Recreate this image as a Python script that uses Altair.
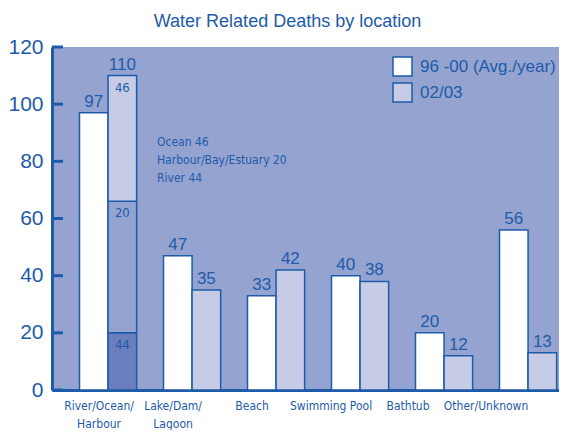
import altair as alt
import pandas as pd

# ---- data ----
categories = ["River/Ocean/Harbour", "Lake/Dam/Lagoon", "Beach", "Swimming Pool", "Bathtub", "Other/Unknown"]
series = ["96 -00 (Avg./year)", "02/03"]
avg_96_00 = [97, 47, 33, 40, 20, 56]
year_02_03 = [110, 35, 42, 38, 12, 13]
# stacked pieces of the first 02/03 bar, bottom to top, as drawn
river_piece_keys = ["River", "Harbour/Bay/Estuary", "02/03"]
river_piece_heights = [20, 46, 44]
river_piece_labels = ["44", "20", "46"]
y_ticks = [0, 20, 40, 60, 80, 100, 120]
label_lines = {
    "River/Ocean/Harbour": ["River/Ocean/", "Harbour"],
    "Lake/Dam/Lagoon": ["Lake/Dam/", "Lagoon"],
}
label_shift = [-9, -19, -24, -29, -36, -42]
annotation = "Ocean 46\nHarbour/Bay/Estuary 20\nRiver 44"
title_text = "Water Related Deaths by location"

BLUE = "#1E5BA8"
BG = "#95A3D0"
LIGHT = "#C6CCE6"
DARK = "#6B7FBF"
WIDE = "Liberation Sans, Arial, sans-serif"
NARROW = "DejaVu Sans Condensed, Roboto, sans-serif"

# ---- tables built from the arrays ----
rows = []
for c, v in zip(categories, avg_96_00):
    rows.append(dict(cat=c, series=series[0], key=series[0], y0=0, y1=v, seglabel=""))
for c, v in zip(categories, year_02_03):
    if c == categories[0]:
        cum = 0
        for key, h, lab in zip(river_piece_keys, river_piece_heights, river_piece_labels):
            rows.append(dict(cat=c, series=series[1], key=key, y0=cum, y1=cum + h, seglabel=lab))
            cum += h
    else:
        rows.append(dict(cat=c, series=series[1], key=series[1], y0=0, y1=v, seglabel=""))
seg = pd.DataFrame(rows)

totals = pd.DataFrame(
    [dict(cat=c, series=series[0], total=v) for c, v in zip(categories, avg_96_00)]
    + [dict(cat=c, series=series[1], total=v) for c, v in zip(categories, year_02_03)]
)
ticks_df = pd.DataFrame({"v": y_ticks})

label_expr = "datum.value"
for k, lines in label_lines.items():
    label_expr = f"datum.value == '{k}' ? {lines!r} : " + label_expr

offset_conditions = [
    {"test": f"datum.value == '{c}'", "value": s} for c, s in zip(categories, label_shift)
]

xscale = alt.Scale(domain=categories, paddingInner=0.32, paddingOuter=0.178, align=0.92)
X = alt.X(
    "cat:N",
    scale=xscale,
    sort=categories,
    axis=alt.Axis(
        title=None,
        labelAngle=0,
        ticks=False,
        tickSize=0,
        labelPadding=10,
        labelFont=NARROW,
        labelFontSize=12,
        labelLineHeight=18,
        labelBaseline="top",
        labelColor=BLUE,
        labelExpr=label_expr,
        labelOffset={"condition": offset_conditions, "value": 0},
        domainColor=BLUE,
        domainWidth=3,
        labelOverlap=False,
        labelLimit=200,
    ),
)
XO = alt.XOffset("series:N", scale=alt.Scale(domain=series, paddingInner=0, paddingOuter=0))
yscale = alt.Scale(domain=[0, 120], nice=False)

bars = alt.Chart(seg).mark_bar(stroke=BLUE, strokeWidth=1.5).encode(
    x=X,
    xOffset=XO,
    y=alt.Y(
        "y1:Q",
        scale=yscale,
        axis=alt.Axis(
            title=None,
            values=y_ticks,
            ticks=False,
            tickSize=0,
            grid=False,
            labelPadding=9,
            labelFont=WIDE,
            labelFontSize=21,
            labelColor=BLUE,
            domainColor=BLUE,
            domainWidth=3,
        ),
    ),
    y2="y0:Q",
    fill=alt.Fill(
        "key:N",
        scale=alt.Scale(domain=series + ["Harbour/Bay/Estuary", "River"], range=["white", LIGHT, BG, DARK]),
        legend=alt.Legend(
            title=None,
            values=series,
            orient="none",
            legendX=340,
            legendY=9,
            padding=0,
            symbolType="square",
            symbolSize=361,
            symbolStrokeColor=BLUE,
            symbolStrokeWidth=1.5,
            symbolOpacity=1,
            labelFont=WIDE,
            labelFontSize=17,
            labelColor=BLUE,
            labelOffset=7,
            rowPadding=1,
        ),
    ),
)

tot_text = alt.Chart(totals).mark_text(
    baseline="bottom", dy=-2, font=WIDE, fontSize=17, color=BLUE
).encode(x=X, xOffset=XO, y=alt.Y("total:Q", scale=yscale), text="total:Q")

seg_text = alt.Chart(seg[seg["seglabel"] != ""]).mark_text(
    baseline="top", dy=6, font=NARROW, fontSize=13, color=BLUE
).encode(x=X, xOffset=XO, y=alt.Y("y1:Q", scale=yscale), text="seglabel:N")

note = alt.Chart(pd.DataFrame({"t": [annotation]})).mark_text(
    align="left", baseline="top", lineBreak="\n", lineHeight=18, font=NARROW, fontSize=12, color=BLUE
).encode(x=alt.value(105), y=alt.value(90), text="t:N")

tick_rules = alt.Chart(ticks_df).mark_rule(color=BLUE, strokeWidth=3).encode(
    y=alt.Y("v:Q", scale=yscale), x=alt.value(0), x2=alt.value(11)
)

chart = (
    alt.layer(bars, tot_text, seg_text, note, tick_rules)
    .properties(
        width=507,
        height=343,
        autosize=alt.AutoSizeParams(type="none"),
        padding={"left": 44, "top": 39, "right": 0, "bottom": 40},
        background="white",
        title=alt.TitleParams(
            title_text, font=WIDE, fontSize=18, fontWeight="normal", color=BLUE,
            anchor="middle", offset=5, dx=-18,
        ),
    )
    .configure_view(strokeWidth=0, fill=BG)
)

chart.save("out.html", embed_options={"renderer": "svg", "actions": False})
